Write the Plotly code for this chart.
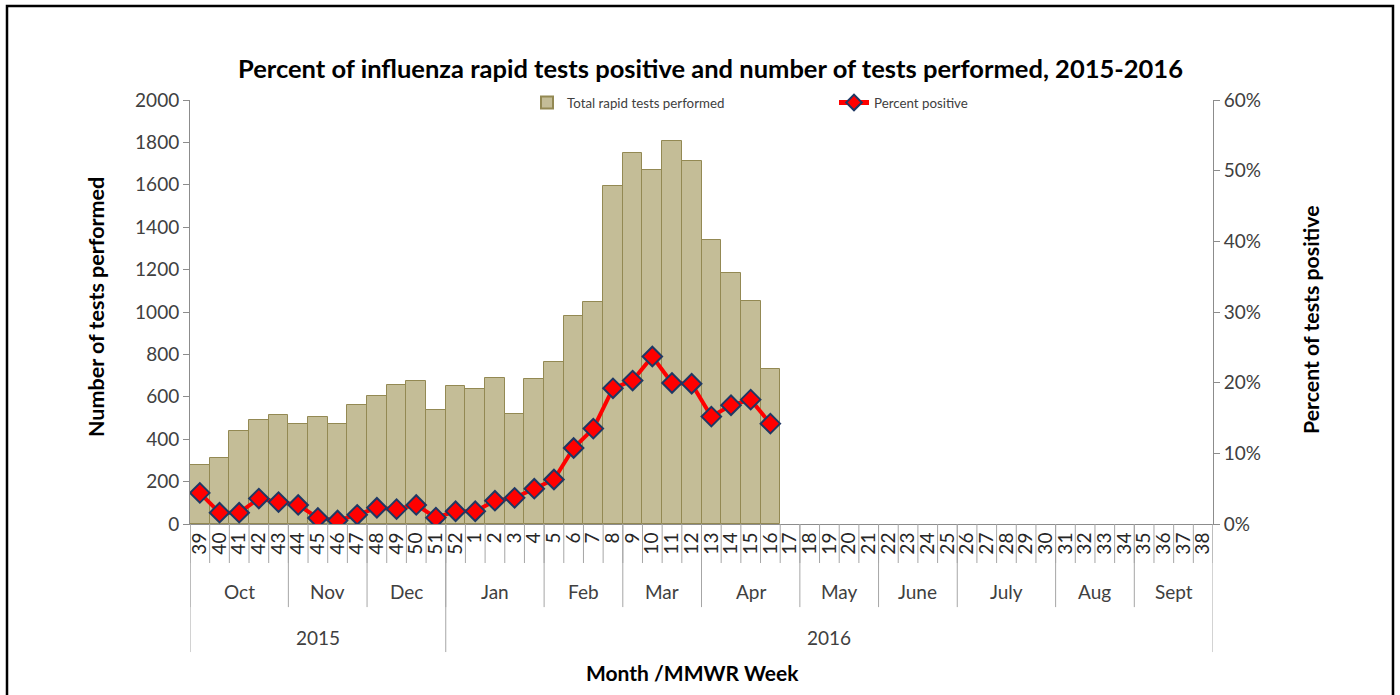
import plotly.graph_objects as go

# ---------------- data ----------------
weeks = [str(w) for w in list(range(39, 53)) + list(range(1, 39))]
months = ["Oct", "Nov", "Dec", "Jan", "Feb", "Mar", "Apr", "May", "June", "July", "Aug", "Sept"]
month_weeks = [5, 4, 4, 5, 4, 4, 5, 4, 4, 5, 4, 4]
years = ["2015", "2016"]
year_weeks = [13, 39]

tests = [278, 309, 438, 490, 515, 474, 504, 470, 562, 603, 655, 674, 536, 651, 639, 691,
         521, 685, 762, 983, 1047, 1596, 1752, 1670, 1807, 1711, 1339, 1185, 1053, 731]
pct_pos = [4.4, 1.6, 1.6, 3.6, 3.1, 2.7, 0.85, 0.5, 1.3, 2.3, 2.1, 2.7, 0.9, 1.8, 1.8, 3.3,
           3.7, 5.0, 6.3, 10.75, 13.5, 19.2, 20.3, 23.7, 19.95, 19.85, 15.2, 16.8, 17.6, 14.2]

# ---------------- figure ----------------
FONT = "Lato"
TICK_COL = "#404040"
AX_COL = "#8c8c8c"

xi = list(range(len(tests)))
fig = go.Figure()
fig.add_trace(go.Bar(
    x=xi, y=tests, name="Total rapid tests performed", width=1.0,
    marker=dict(color="#C4BD97", line=dict(color="#938953", width=1)),
))
fig.add_trace(go.Scatter(
    x=xi, y=[p / 100 for p in pct_pos], name="Percent positive", yaxis="y2",
    mode="lines+markers",
    line=dict(color="#FF0000", width=4),
    marker=dict(symbol="diamond", size=15, color="#FF0000",
                line=dict(color="#1F3864", width=2)),
))

n = len(weeks)
shapes = []
for i in range(n + 1):
    shapes.append(dict(type="line", xref="x", yref="paper", x0=i - 0.5, x1=i - 0.5,
                       y0=0, y1=-0.092, line=dict(color="#a6a6a6", width=1)))
annotations = []
start = 0
for m, c in zip(months, month_weeks):
    shapes.append(dict(type="line", xref="x", yref="paper", x0=start - 0.5, x1=start - 0.5,
                       y0=0, y1=-0.196, line=dict(color="#a6a6a6", width=1)))
    annotations.append(dict(xref="x", yref="paper", x=start + (c - 1) / 2, y=-0.16,
                            xanchor="center", yanchor="middle",
                            text=m, showarrow=False, font=dict(family=FONT, size=19, color=TICK_COL)))
    start += c
start = 0
for yv, c in zip(years, year_weeks):
    shapes.append(dict(type="line", xref="x", yref="paper", x0=start - 0.5, x1=start - 0.5,
                       y0=0, y1=-0.302, line=dict(color="#a6a6a6", width=1)))
    annotations.append(dict(xref="x", yref="paper", x=start + (c - 1) / 2, y=-0.267,
                            xanchor="center", yanchor="middle",
                            text=yv, showarrow=False, font=dict(family=FONT, size=19, color=TICK_COL)))
    start += c
shapes.append(dict(type="line", xref="x", yref="paper", x0=n - 0.5, x1=n - 0.5,
                   y0=0, y1=-0.302, line=dict(color="#a6a6a6", width=1)))
# outer border
shapes.append(dict(type="rect", xref="paper", yref="paper",
                   x0=(7 - 190) / 1023, x1=(1393 - 190) / 1023,
                   y0=(524 - 705) / 424, y1=(524 - 6) / 424,
                   line=dict(color="black", width=2.5)))

annotations += [
    dict(xref="paper", yref="paper", x=(710 - 190) / 1023, y=(524 - 68) / 424,
         xanchor="center", yanchor="middle",
         text="<b>Percent of influenza rapid tests positive and number of tests performed, 2015-2016</b>",
         showarrow=False, font=dict(family=FONT, size=25.5, color="black")),
    dict(xref="paper", yref="paper", x=(96 - 190) / 1023, y=(524 - 307) / 424,
         xanchor="center", yanchor="middle",
         text="<b>Number of tests performed</b>", textangle=-90,
         showarrow=False, font=dict(family=FONT, size=21.5, color="black")),
    dict(xref="paper", yref="paper", x=(1311 - 190) / 1023, y=(524 - 320) / 424,
         xanchor="center", yanchor="middle",
         text="<b>Percent of tests positive</b>", textangle=-90,
         showarrow=False, font=dict(family=FONT, size=21.3, color="black")),
    dict(xref="paper", yref="paper", x=(692 - 190) / 1023, y=(524 - 672) / 424,
         xanchor="center", yanchor="middle",
         text="<b>Month /MMWR Week</b>",
         showarrow=False, font=dict(family=FONT, size=21, color="black")),
]

fig.update_layout(
    width=1400, height=695,
    margin=dict(l=190, r=187, t=100, b=171),
    paper_bgcolor="white", plot_bgcolor="white",
    bargap=0,
    showlegend=True,
    legend=dict(orientation="h", x=(527 - 190) / 1023, y=1.03, xanchor="left", yanchor="top",
                font=dict(family=FONT, size=13.3, color=TICK_COL), itemsizing="constant",
                entrywidth=262, entrywidthmode="pixels", bgcolor="rgba(0,0,0,0)"),
    xaxis=dict(range=[-0.5, n - 0.5], tickmode="array", tickvals=list(range(n)), ticktext=weeks,
               tickangle=-90, ticks="", showline=True, linecolor=AX_COL, linewidth=1,
               showgrid=False, zeroline=False,
               tickfont=dict(family=FONT, size=19, color="#262626")),
    yaxis=dict(range=[0, 2000], dtick=200, ticks="outside", ticklen=6, tickcolor=AX_COL,
               showline=True, linecolor=AX_COL, linewidth=1, showgrid=False, zeroline=False,
               tickfont=dict(family=FONT, size=19, color=TICK_COL)),
    yaxis2=dict(range=[0, 0.6], dtick=0.1, tickformat=".0%", overlaying="y", side="right",
                ticks="outside", ticklen=6, tickcolor=AX_COL,
                showline=True, linecolor=AX_COL, linewidth=1, showgrid=False, zeroline=False,
                tickfont=dict(family=FONT, size=19, color=TICK_COL)),
    shapes=shapes,
    annotations=annotations,
)

fig.write_html("out.html", config={"displayModeBar": False},
               post_script="document.body.style.margin='0';document.body.style.overflow='hidden';")
